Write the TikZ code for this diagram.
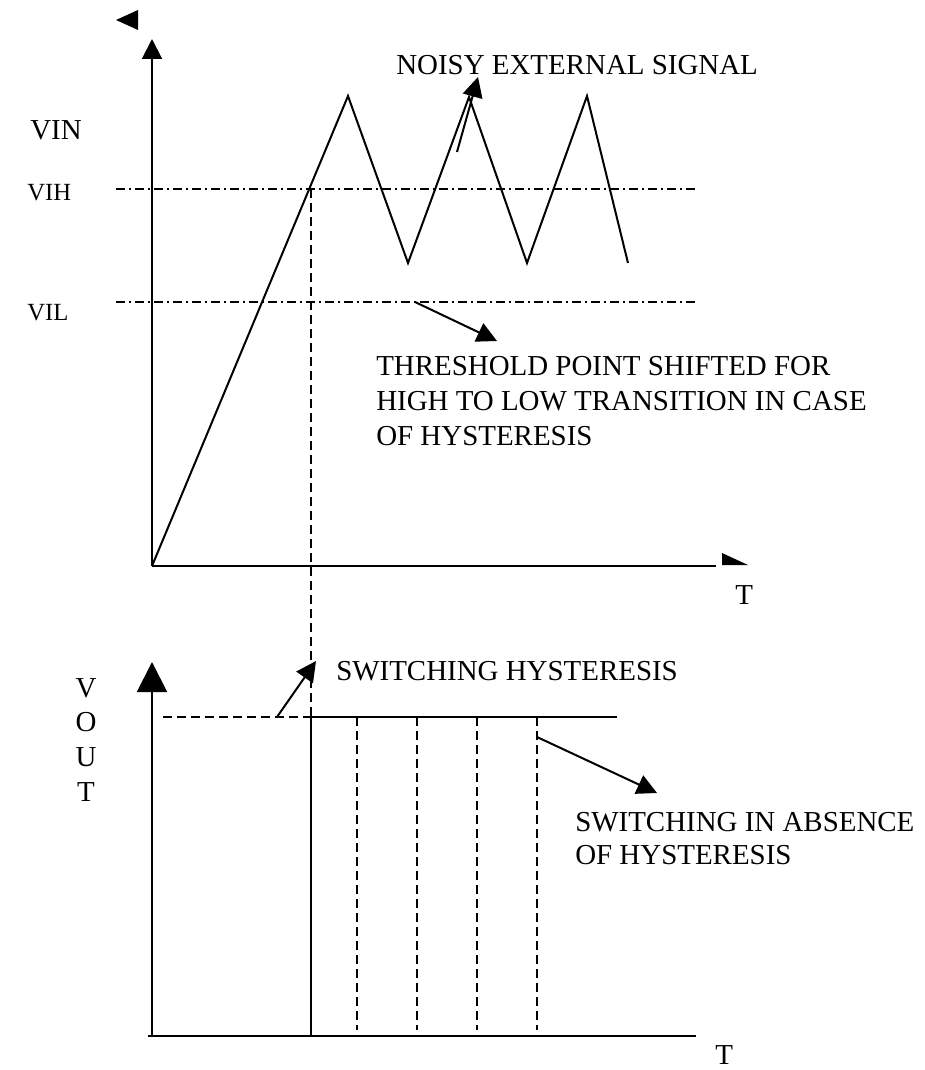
\documentclass[tikz,border=0pt]{standalone}
\usepackage{fontspec}
\setmainfont{Liberation Serif}
\usetikzlibrary{arrows.meta}

\begin{document}
\begin{tikzpicture}[
    x=0.75pt, y=-0.75pt,
    axis/.style={line width=1.5pt},
    signal/.style={line width=1.5pt, line join=miter},
    level/.style={line width=1.5pt, dash pattern=on 6.75pt off 3pt on 1.5pt off 3pt},
    guide/.style={line width=1.3pt, dash pattern=on 7pt off 3.5pt},
    arrow/.style={-{Triangle[length=15pt,width=15pt]}, line width=1.5pt},
    bigarrow/.style={-{Triangle[length=22.5pt,width=22.5pt]}, line width=1.5pt},
    lbl/.style={inner sep=0pt, align=left, font=\fontsize{21.7}{26}\selectfont},
    smalllbl/.style={inner sep=0pt, font=\fontsize{18.5}{22}\selectfont}
  ]
    \useasboundingbox (0,0) rectangle (924,1070);

    % input graph
    \coordinate (in0) at (152,566);
    \coordinate (intop) at (152,39);
    \coordinate (inend) at (716,566);
    \coordinate (vihL) at (116,189);
    \coordinate (vihR) at (696,189);
    \coordinate (vilL) at (116,302);
    \coordinate (vilR) at (696,302);
    \coordinate (cross) at (311,189);

    \draw[arrow] (in0) -- (intop);
    \draw[axis] (in0) -- (inend);
    \fill (116,20) -- (138,10) -- (138,30) -- cycle;
    \fill (722,553) -- (748,565) -- (722,565) -- cycle;
    \draw[level] (vihL) -- (vihR);
    \draw[level] (vilL) -- (vilR);
    \draw[signal] (in0) -- (348,96) -- (408,263) -- (469,97) -- (527,263)
      -- (587,96) -- (628,263);

    \node[lbl, anchor=base west] (vin) at (30,140) {VIN};
    \node[smalllbl, anchor=base west] (vih) at (27,200) {VIH};
    \node[smalllbl, anchor=base west] (vil) at (27,320) {VIL};
    \node[lbl, anchor=base west] (tin) at (735,604) {T};
    \node[lbl, anchor=base west] (noisy) at (396,75) {NOISY EXTERNAL SIGNAL};
    \node[lbl, anchor=base west] (thr) at (376,445)
      {THRESHOLD POINT SHIFTED FOR\\HIGH TO LOW TRANSITION IN CASE\\OF HYSTERESIS};

    \coordinate (noisytail) at (457,152);
    \coordinate (noisytip) at (478,77);
    \coordinate (thrtail) at (415,302);
    \coordinate (thrtip) at (497,341);
    \draw[arrow] (noisytail) -- (noisytip);
    \draw[arrow] (thrtail) -- (thrtip);

    % output graph
    \coordinate (out0) at (152,1036);
    \coordinate (outtop) at (152,662);
    \coordinate (outend) at (696,1036);
    \coordinate (highL) at (163,717);
    \coordinate (highsw) at (311,717);
    \coordinate (highR) at (617,717);
    \coordinate (lowsw) at (311,1036);

    \draw[bigarrow] (out0) -- (outtop);
    \draw[axis] (148,1036) -- (outend);
    \draw[guide] (cross) -- (highsw);
    \draw[guide] (highL) -- (highsw);
    \draw[axis] (highsw) -- (highR);
    \draw[axis] (highsw) -- (lowsw);
    \foreach \xs in {357,417,477,537}
      \draw[guide] (\xs,717) -- (\xs,1030);

    \node[lbl, align=center, anchor=base] (vout) at (86,801) {V\\O\\U\\T};
    \node[lbl, anchor=base west] (tout) at (715,1064) {T};
    \node[lbl, anchor=base west] (hyst) at (336,680) {SWITCHING HYSTERESIS};
    \node[lbl, anchor=base west, font=\fontsize{21.7}{24.5}\selectfont] (absent) at (575,864)
      {SWITCHING IN ABSENCE\\OF HYSTERESIS};

    \coordinate (hysttail) at (277,717);
    \coordinate (hysttip) at (316,661);
    \coordinate (abstail) at (537,737);
    \coordinate (abstip) at (657,793);
    \draw[arrow] (hysttail) -- (hysttip);
    \draw[arrow] (abstail) -- (abstip);
  \end{tikzpicture}
\end{document}
